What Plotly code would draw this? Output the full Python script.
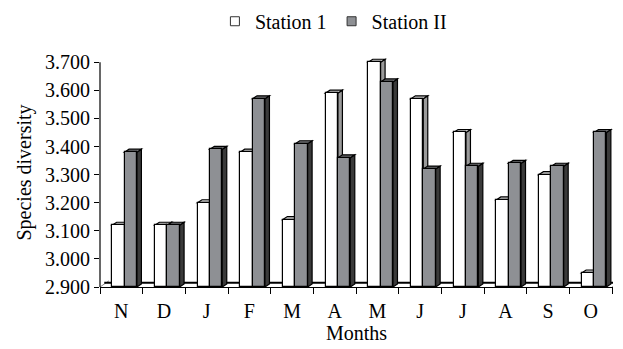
import plotly.graph_objects as go

# Monthly species diversity at two stations
months = ["N", "D", "J", "F", "M", "A", "M", "J", "J", "A", "S", "O"]
station_1 = [3.12, 3.12, 3.20, 3.38, 3.14, 3.59, 3.70, 3.57, 3.45, 3.21, 3.30, 2.95]
station_2 = [3.38, 3.12, 3.39, 3.57, 3.41, 3.36, 3.63, 3.32, 3.33, 3.34, 3.33, 3.45]
y_ticks = [2.9, 3.0, 3.1, 3.2, 3.3, 3.4, 3.5, 3.6, 3.7]

BASE = 2.9
BAR_W = 0.29
OFF_1 = -0.215
OFF_2 = OFF_1 + BAR_W
DX, DY = 0.105, 0.0105          # oblique depth of each bar
FDX, FDY = 0.21, 0.022          # depth of the floor

FONT = "Liberation Serif"
WHITE, GREY = "white", "#8e9094"
x = list(range(len(months)))

fig = go.Figure()
fig.add_trace(go.Bar(
    x=x, y=[v - BASE for v in station_1], base=BASE, name="Station 1",
    offset=OFF_1, width=BAR_W, showlegend=False,
    marker=dict(color=WHITE, line=dict(color="black", width=1.2)),
))
fig.add_trace(go.Bar(
    x=x, y=[v - BASE for v in station_2], base=BASE, name="Station II",
    offset=OFF_2, width=BAR_W, showlegend=False,
    marker=dict(color=GREY, line=dict(color="black", width=1.2)),
))
# small square legend keys
for name, col in (("Station 1", WHITE), ("Station II", GREY)):
    fig.add_trace(go.Scatter(
        x=[None], y=[None], mode="markers", name=name,
        marker=dict(symbol="square", size=9, color=col,
                    line=dict(color="#333333", width=1)),
    ))

shapes = []
# floor of the 3D box
lo, hi = -0.5, len(months) - 0.5
shapes.append(dict(type="path", xref="x", yref="y", layer="below",
                   path=f"M{lo},{BASE} L{lo + FDX},{BASE + FDY}",
                   line=dict(color="#888888", width=1)))
shapes.append(dict(type="path", xref="x", yref="y", layer="below",
                   path=f"M{hi},{BASE} L{hi + FDX},{BASE + FDY}",
                   line=dict(color="#888888", width=1)))
shapes.append(dict(type="line", xref="x", yref="y", layer="below",
                   x0=lo + 0.1, x1=hi + 0.1, y0=BASE + 0.015, y1=BASE + 0.015,
                   line=dict(color="black", width=2)))


def faces(xc, off, v, top_col, side_col):
    left = xc + off
    right = left + BAR_W
    top = (f"M{left},{v} L{left + DX},{v + DY} L{right + DX},{v + DY} "
           f"L{right},{v} Z")
    side = (f"M{right},{BASE} L{right + DX},{BASE + DY} L{right + DX},{v + DY} "
            f"L{right},{v} Z")
    out = []
    for p, c in ((side, side_col), (top, top_col)):
        out.append(dict(type="path", xref="x", yref="y", layer="below", path=p,
                        fillcolor=c, line=dict(color="black", width=1.2)))
    return out


for i in x:
    shapes += faces(i, OFF_1, station_1[i], "#c9c9c9", "#9a9a9a")
    shapes += faces(i, OFF_2, station_2[i], "#6e6f72", "#3a3a3a")

# y axis line from the floor to the top tick
shapes.append(dict(type="line", xref="paper", yref="y", x0=0, x1=0,
                   y0=BASE, y1=3.7, line=dict(color="black", width=1.2)))

fig.update_layout(
    width=623, height=349,
    margin=dict(l=100, r=10, t=58, b=51),
    paper_bgcolor="white", plot_bgcolor="white",
    font=dict(family=FONT, size=20, color="black"),
    barmode="overlay", bargap=0,
    shapes=shapes,
    showlegend=True,
    legend=dict(orientation="h", x=0.455, xanchor="center", y=0.995, yanchor="top",
                yref="container", font=dict(family=FONT, size=20),
                traceorder="normal", itemwidth=30, bgcolor="rgba(0,0,0,0)"),
    xaxis=dict(
        range=[lo, hi + 0.02], tickmode="array", tickvals=x, ticktext=months,
        ticks="", showline=True, linecolor="black", linewidth=1.2,
        showgrid=False, zeroline=False, ticklabelstandoff=6,
        tickfont=dict(family=FONT, size=20),
        minor=dict(tickvals=[i - 0.5 for i in range(len(months) + 1)],
                   ticks="outside", ticklen=6, tickcolor="black", tickwidth=1,
                   showgrid=False),
        title=dict(text="Months", standoff=3, font=dict(family=FONT, size=20)),
    ),
    yaxis=dict(
        range=[BASE, 3.715], tickmode="array", tickvals=y_ticks,
        tickformat=".3f", ticks="outside", ticklen=5, tickcolor="black",
        showline=False, showgrid=False, zeroline=False,
        tickfont=dict(family=FONT, size=20),
        title=dict(text="Species diversity", standoff=8,
                   font=dict(family=FONT, size=20)),
    ),
)

fig.write_html("out.html")
